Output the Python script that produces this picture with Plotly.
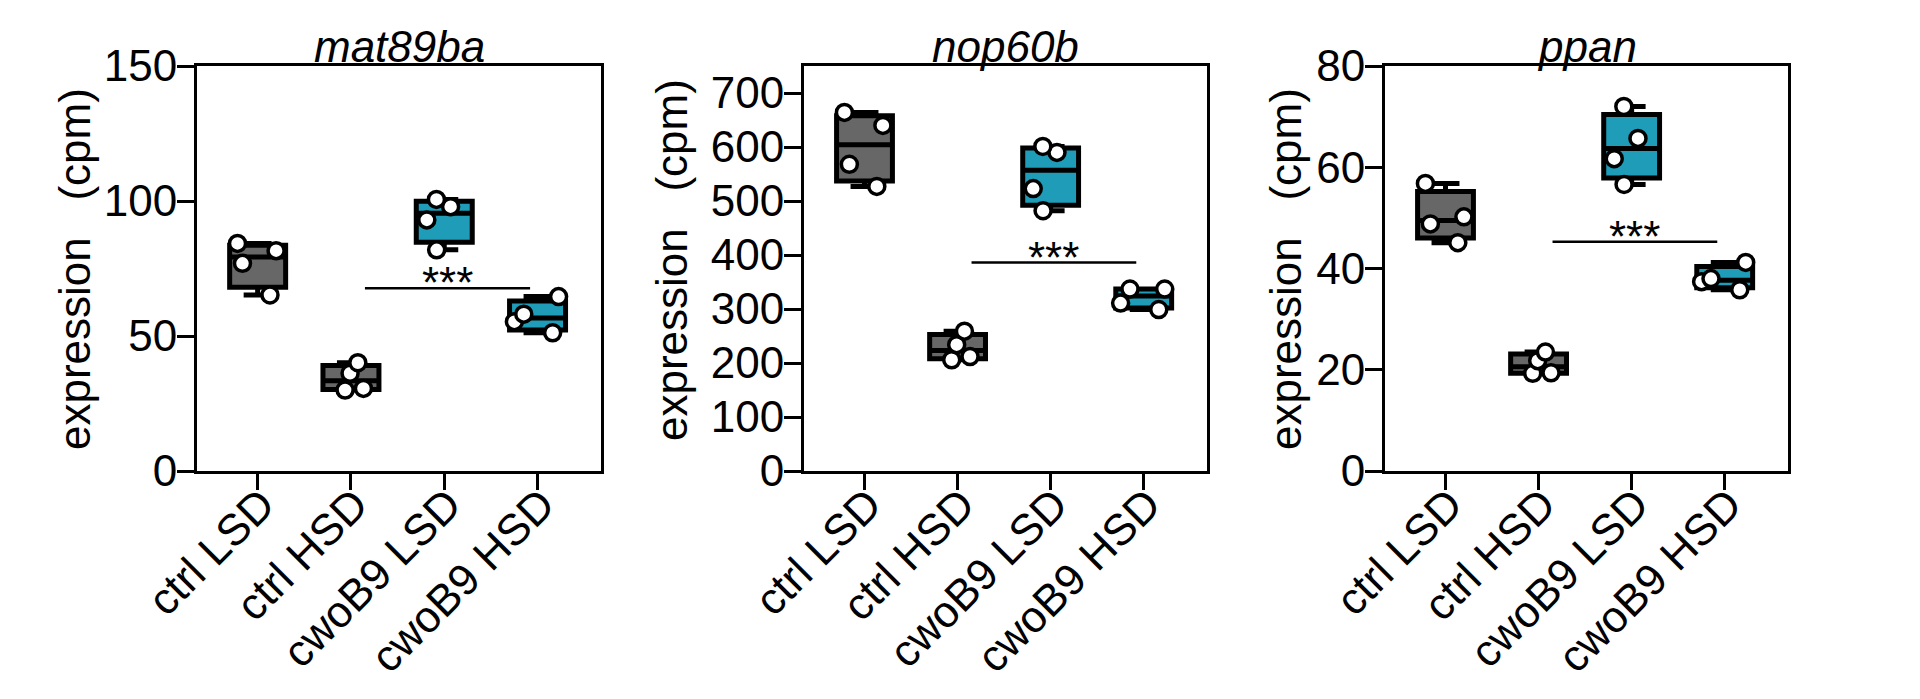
import plotly.graph_objects as go

# ---------------- data ----------------
categories = ["ctrl LSD", "ctrl HSD", "cwoB9 LSD", "cwoB9 HSD"]
genes = ["mat89ba", "nop60b", "ppan"]

# individual replicates, per gene, per category
mat89ba_pts = {
    "ctrl LSD": [84.3, 81.6, 76.9, 65.2],
    "ctrl HSD": [40.1, 36.2, 30.6, 30.0],
    "cwoB9 LSD": [100.6, 97.9, 93.0, 81.9],
    "cwoB9 HSD": [64.6, 58.1, 55.3, 51.2],
}
nop60b_pts = {
    "ctrl LSD": [664, 640, 568, 527],
    "ctrl HSD": [259, 234, 212, 206],
    "cwoB9 LSD": [601, 590, 523, 482],
    "cwoB9 HSD": [337, 337, 311, 299],
}
ppan_pts = {
    "ctrl LSD": [56.8, 50.2, 48.8, 45.1],
    "ctrl HSD": [23.5, 21.8, 19.4, 19.3],
    "cwoB9 LSD": [72.0, 65.7, 61.7, 56.6],
    "cwoB9 HSD": [41.2, 38.0, 37.4, 35.8],
}

# box statistics as drawn (q1, median, q3) per category
mat89ba_q1 = [68.1, 30.2, 84.7, 52.2]
mat89ba_med = [79.3, 33.4, 95.5, 56.7]
mat89ba_q3 = [83.6, 39.1, 99.9, 63.0]

nop60b_q1 = [537, 208, 492, 302]
nop60b_med = [604, 223, 557, 324]
nop60b_q3 = [658, 253, 598, 337]

ppan_q1 = [46.0, 19.3, 57.9, 36.2]
ppan_med = [49.5, 20.6, 63.7, 37.7]
ppan_q3 = [55.2, 23.1, 70.4, 40.4]

# y-axis ranges and ticks
y_max = [150, 750, 80]
y_ticks = [[0, 50, 100, 150], [0, 100, 200, 300, 400, 500, 600, 700], [0, 20, 40, 60, 80]]
y_title = "expression\u00a0\u00a0\u00a0(cpm)"

# significance bar height (ctrl HSD vs cwoB9 HSD)
sig_y = [67.7, 386, 45.3]
sig_label = "***"

# ---------------- styling / layout ----------------
GRAY = "#676767"
TEAL = "#1f9db8"
FONT = "Liberation Sans, Arial, sans-serif"

pts_all = [mat89ba_pts, nop60b_pts, ppan_pts]
q1_all = [mat89ba_q1, nop60b_q1, ppan_q1]
med_all = [mat89ba_med, nop60b_med, ppan_med]
q3_all = [mat89ba_q3, nop60b_q3, ppan_q3]

OFF = 8                      # default page body margin of the html page
W, H = 1920 - 2 * OFF, 699 - 2 * OFF


def fx(px):  # page x-pixel -> paper fraction
    return (px - OFF) / W


def fy(py):  # page y-pixel -> paper fraction
    return 1 - (py - OFF) / H


x_px = [(197, 601), (804, 1207), (1385, 1788)]
ylab_px = [(74, 269), (671, 260), (1285, 269)]
y_dom = [fy(471), fy(66)]

fig = go.Figure()
annotations = []
shapes = []

for i, gene in enumerate(genes):
    xa = "x" if i == 0 else f"x{i+1}"
    ya = "y" if i == 0 else f"y{i+1}"
    pts = pts_all[i]
    for group, color in (("ctrl", GRAY), ("cwoB9", TEAL)):
        idx = [k for k, c in enumerate(categories) if c.startswith(group)]
        fig.add_trace(go.Box(
            x=[categories[k] for k in idx],
            q1=[q1_all[i][k] for k in idx],
            median=[med_all[i][k] for k in idx],
            q3=[q3_all[i][k] for k in idx],
            lowerfence=[min(pts[categories[k]]) for k in idx],
            upperfence=[max(pts[categories[k]]) for k in idx],
            fillcolor=color,
            line=dict(color="black", width=5),
            whiskerwidth=0.5,
            width=0.6,
            boxpoints=False,
            hoverinfo="skip",
            showlegend=False,
            xaxis=xa, yaxis=ya,
        ))
    # individual points
    xs, ys = [], []
    for c in categories:
        xs += [c] * len(pts[c])
        ys += pts[c]
    fig.add_trace(go.Box(
        x=xs, y=ys,
        boxpoints="all", jitter=0.85, pointpos=0,
        fillcolor="rgba(0,0,0,0)",
        line=dict(color="rgba(0,0,0,0)", width=0),
        marker=dict(color="white", size=16, line=dict(color="black", width=3.5)),
        width=0.6,
        showlegend=False,
        xaxis=xa, yaxis=ya,
    ))

    dom = [fx(x_px[i][0]), fx(x_px[i][1])]
    axis_common = dict(
        showline=True, linecolor="black", linewidth=3, mirror=True,
        ticks="outside", tickcolor="black", tickwidth=3,
        showgrid=False, zeroline=False, automargin=False,
    )
    fig.update_layout(**{
        ("xaxis" if i == 0 else f"xaxis{i+1}"): dict(
            domain=dom, anchor=ya, type="category",
            categoryorder="array", categoryarray=categories,
            range=[-0.65, 3.68], ticklen=16, tickangle=-45,
            ticklabelstandoff=-29, ticklabelshift=4,
            tickfont=dict(family=FONT, size=44, color="black"),
            **axis_common,
        ),
        ("yaxis" if i == 0 else f"yaxis{i+1}"): dict(
            domain=y_dom, anchor=xa, range=[0, y_max[i]],
            tickvals=y_ticks[i], ticklen=17, ticklabelstandoff=-9,
            tickfont=dict(family=FONT, size=44, color="black"),
            **axis_common,
        ),
    })

    # y-axis title
    annotations.append(dict(
        text=y_title, xref="paper", yref="paper",
        x=fx(ylab_px[i][0]), y=fy(ylab_px[i][1]),
        xanchor="center", yanchor="middle", textangle=-90, showarrow=False,
        font=dict(family=FONT, size=44, color="black"),
    ))
    # gene title (italic)
    annotations.append(dict(
        text=f"<i>{gene}</i>", xref="paper", yref="paper",
        x=(dom[0] + dom[1]) / 2, y=fy(73), xanchor="center", yanchor="bottom",
        showarrow=False, font=dict(family=FONT, size=44, color="black"),
    ))
    # significance bar
    shapes.append(dict(
        type="line", xref=xa, yref=ya, x0=1.15, x1=2.92, y0=sig_y[i], y1=sig_y[i],
        line=dict(color="black", width=2.5),
    ))
    annotations.append(dict(
        text=sig_label, xref=xa, yref=ya, x=2.035, y=sig_y[i],
        xanchor="center", yanchor="bottom", yshift=-21, showarrow=False,
        font=dict(family=FONT, size=44, color="black"),
    ))

fig.update_layout(
    width=W, height=H,
    margin=dict(l=0, r=0, t=0, b=0),
    paper_bgcolor="white", plot_bgcolor="white",
    boxmode="overlay",
    showlegend=False,
    annotations=annotations,
    shapes=shapes,
    font=dict(family=FONT, color="black"),
)

fig.write_html("out.html")
